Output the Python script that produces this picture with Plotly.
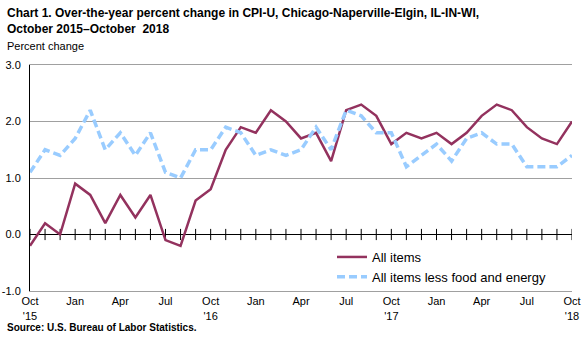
import plotly.graph_objects as go

# Months from October 2015 through October 2018
months = [
    "2015-10", "2015-11", "2015-12",
    "2016-01", "2016-02", "2016-03", "2016-04", "2016-05", "2016-06",
    "2016-07", "2016-08", "2016-09", "2016-10", "2016-11", "2016-12",
    "2017-01", "2017-02", "2017-03", "2017-04", "2017-05", "2017-06",
    "2017-07", "2017-08", "2017-09", "2017-10", "2017-11", "2017-12",
    "2018-01", "2018-02", "2018-03", "2018-04", "2018-05", "2018-06",
    "2018-07", "2018-08", "2018-09", "2018-10",
]

# Over-the-year percent change, all items
all_items = [
    -0.2, 0.2, 0.0,
    0.9, 0.7, 0.2, 0.7, 0.3, 0.7, -0.1, -0.2, 0.6, 0.8, 1.5, 1.9,
    1.8, 2.2, 2.0, 1.7, 1.8, 1.3, 2.2, 2.3, 2.1, 1.6, 1.8, 1.7,
    1.8, 1.6, 1.8, 2.1, 2.3, 2.2, 1.9, 1.7, 1.6, 2.0,
]

# Over-the-year percent change, all items less food and energy
core_items = [
    1.1, 1.5, 1.4,
    1.7, 2.2, 1.5, 1.8, 1.4, 1.8, 1.1, 1.0, 1.5, 1.5, 1.9, 1.8,
    1.4, 1.5, 1.4, 1.5, 1.9, 1.5, 2.2, 2.1, 1.8, 1.8, 1.2, 1.4,
    1.6, 1.3, 1.7, 1.8, 1.6, 1.6, 1.2, 1.2, 1.2, 1.4,
]

# Quarterly axis labels
month_abbr = {"01": "Jan", "04": "Apr", "07": "Jul", "10": "Oct"}
tick_idx = [i for i, m in enumerate(months) if m[5:] in month_abbr]
tick_text = []
for i in tick_idx:
    year, mon = months[i].split("-")
    label = month_abbr[mon]
    if mon == "10":
        label += "<br>'" + year[2:]
    tick_text.append(label)

y_ticks = [-1.0, 0.0, 1.0, 2.0, 3.0]
y_tick_text = ["-1.0", "0.0", "1.0", "2.0", "3.0"]

x_idx = list(range(len(months)))
FONT = "Arial, Liberation Sans, sans-serif"
PURPLE = "#93325E"
LIGHT_BLUE = "#99CCFF"
GRAY = "#A0A0A0"

# Plot-area geometry in pixels (used to place free text in paper units)
W, H = 588, 337
ML, MR, MT, MB = 30, 16, 65, 46
PW, PH = W - ML - MR, H - MT - MB


def px_x(x):
    return (x - ML) / PW


def px_y(y):
    return (H - MB - y) / PH


fig = go.Figure()

# Monthly tick marks crossing the zero line
fig.add_trace(go.Scatter(
    x=x_idx, y=[0] * len(x_idx), mode="markers", showlegend=False,
    hoverinfo="skip",
    marker=dict(symbol="line-ns", size=8, color="black",
                line=dict(color="black", width=1)),
))

fig.add_trace(go.Scatter(
    x=x_idx, y=all_items, mode="lines", name="All items",
    line=dict(color=PURPLE, width=2.5),
))
fig.add_trace(go.Scatter(
    x=x_idx, y=core_items, mode="lines", name="All items less food and energy",
    line=dict(color=LIGHT_BLUE, width=3.5, dash="8px,4px"),
))

x_range = [0, len(months) - 1]

fig.update_layout(
    width=W, height=H,
    margin=dict(l=ML, r=MR, t=MT, b=MB, autoexpand=False),
    paper_bgcolor="white", plot_bgcolor="white",
    font=dict(family=FONT, size=11, color="black"),
    showlegend=True,
    legend=dict(
        x=px_x(332), y=px_y(242), xanchor="left", yanchor="top",
        bgcolor="rgba(0,0,0,0)", borderwidth=0,
        font=dict(family=FONT, size=13, color="black"),
        tracegroupgap=0, itemwidth=30,
    ),
    xaxis=dict(
        range=x_range, tickmode="array", tickvals=tick_idx, ticktext=tick_text,
        showgrid=False, zeroline=False, ticks="", automargin=False,
        showline=True, linecolor=GRAY, linewidth=1, mirror=True,
        tickfont=dict(family=FONT, size=11, color="black"),
    ),
    yaxis=dict(
        range=[-1, 3], tickmode="array", tickvals=y_ticks, ticktext=y_tick_text,
        showgrid=True, gridcolor=GRAY, gridwidth=1, automargin=False,
        zeroline=True, zerolinecolor="black", zerolinewidth=1,
        showline=True, linecolor="black", linewidth=1,
        ticks="", ticklabelstandoff=6,
        tickfont=dict(family=FONT, size=11, color="black"),
    ),
    yaxis2=dict(
        overlaying="y", side="right", range=[-1, 3], showgrid=False,
        zeroline=False, showticklabels=False, ticks="", automargin=False,
        showline=True, linecolor=GRAY, linewidth=1,
    ),
)

# Two-line bold title
fig.add_annotation(
    text="Chart 1. Over-the-year percent change in CPI-U, Chicago-Naperville-Elgin, IL-IN-WI,",
    xref="paper", yref="paper", x=px_x(5), y=px_y(13),
    xanchor="left", yanchor="middle", showarrow=False,
    font=dict(family=FONT, size=12, color="black", weight="bold"),
)
fig.add_annotation(
    text="October 2015\u2013October  2018",
    xref="paper", yref="paper", x=px_x(5), y=px_y(29),
    xanchor="left", yanchor="middle", showarrow=False,
    font=dict(family=FONT, size=12, color="black", weight="bold"),
)
fig.add_annotation(
    text="Percent change", xref="paper", yref="paper",
    x=px_x(5), y=px_y(46), xanchor="left", yanchor="middle",
    showarrow=False, font=dict(family=FONT, size=11, color="black"),
)
fig.add_annotation(
    text="Source: U.S. Bureau of Labor Statistics.", xref="paper", yref="paper",
    x=px_x(5), y=px_y(327), xanchor="left", yanchor="middle",
    showarrow=False, font=dict(family=FONT, size=10, color="black", weight="bold"),
)

fig.write_html("out.html")
